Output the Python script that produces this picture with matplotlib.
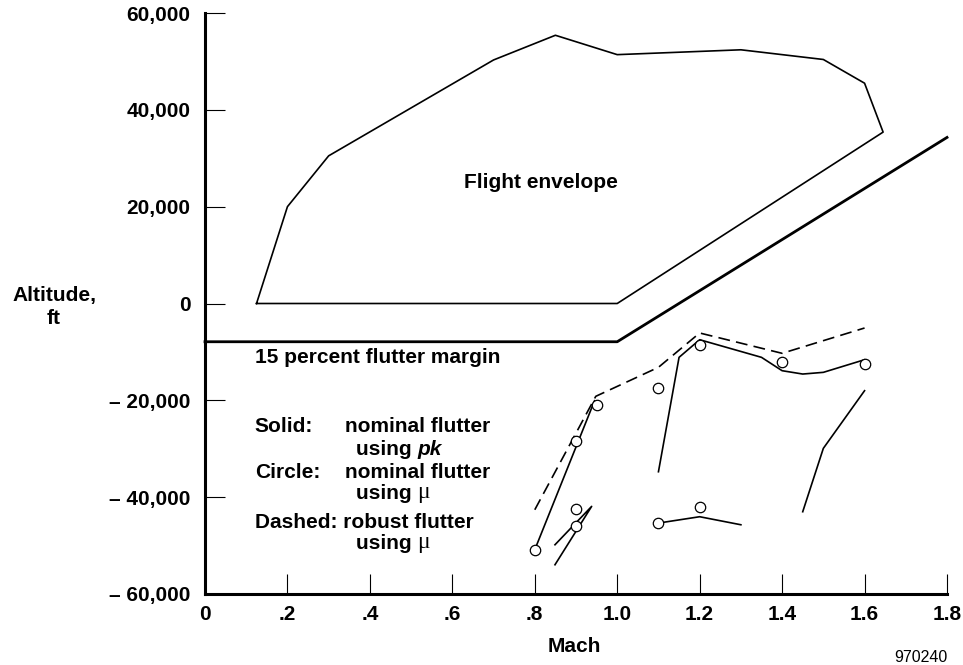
#!/usr/bin/env python3
# -*- coding: utf-8 -*-

import matplotlib
matplotlib.use("Agg")
import matplotlib.pyplot as plt

plt.rcParams['font.family'] = ['Liberation Sans', 'DejaVu Sans']
plt.rcParams['font.weight'] = 'bold'
plt.rcParams['lines.scale_dashes'] = False

# flight envelope boundary (Mach, altitude ft)
env_mach = [0.125, 0.2, 0.3, 0.7, 0.85, 1.0, 1.3, 1.5, 1.6, 1.645, 1.0, 0.125]
env_alt = [0, 20000, 30500, 50300, 55400, 51400, 52400, 50400, 45500, 35400, 0, 0]

# 15 percent flutter margin boundary
margin_mach = [0.0, 1.0, 1.8]
margin_alt = [-7900, -7900, 34300]

# robust flutter using mu (dashed)
robust_mach = [0.80, 0.948, 1.10, 1.20, 1.40, 1.60]
robust_alt = [-42600, -19170, -13180, -6090, -10290, -5060]

# nominal flutter using pk (solid), several branches
pk_branches = [
    ([0.80, 0.945], [-50860, -20080]),
    ([1.10, 1.15, 1.20, 1.35, 1.40, 1.45, 1.50, 1.60],
     [-34750, -11120, -7480, -11120, -13880, -14570, -14220, -11610]),
    ([1.10, 1.20, 1.30], [-45350, -44040, -45700]),
    ([1.45, 1.50, 1.60], [-43010, -29920, -18010]),
    ([0.849, 0.938, 0.849], [-49830, -41900, -53960]),
]

# nominal flutter using mu (circles)
mu_mach = [0.80, 0.90, 0.95, 0.90, 0.90, 1.10, 1.20, 1.20, 1.10, 1.40, 1.60]
mu_alt = [-50860, -28340, -20970, -42460, -46030, -17520, -8570, -41980, -45350, -12150, -12500]

mach_ticks = [0, 0.2, 0.4, 0.6, 0.8, 1.0, 1.2, 1.4, 1.6, 1.8]
mach_labels = ['0', '.2', '.4', '.6', '.8', '1.0', '1.2', '1.4', '1.6', '1.8']
alt_ticks = [-60000, -40000, -20000, 0, 20000, 40000, 60000]
alt_labels = ['\u2013 60,000', '\u2013 40,000', '\u2013 20,000', '0', '20,000', '40,000', '60,000']

fig = plt.figure(figsize=(9.63, 6.65), dpi=100)
ax = fig.add_axes([205/963, 71/665, 742/963, 581/665])

ax.plot(env_mach, env_alt, 'k-', lw=1.2)
ax.plot(margin_mach, margin_alt, 'k-', lw=2.0, clip_on=False)
ax.plot(robust_mach, robust_alt, 'k-', lw=1.2, dashes=(8.5, 4.5))
for m, a in pk_branches:
    ax.plot(m, a, 'k-', lw=1.2)
ax.plot(mu_mach, mu_alt, 'o', color='k', mfc='white', ms=7.5, mew=0.9, ls='none')

ax.set_xlim(0, 1.8)
ax.set_ylim(-60000, 60000)
ax.set_xticks(mach_ticks)
ax.set_xticklabels(mach_labels)
ax.set_yticks(alt_ticks)
ax.set_yticklabels(alt_labels)
ax.tick_params(direction='in', length=14.4, width=0.8, labelsize=15)
ax.tick_params(axis='y', pad=10.5)
ax.tick_params(axis='x', pad=8)
for s in ['top', 'right']:
    ax.spines[s].set_visible(False)
for s in ['left', 'bottom']:
    ax.spines[s].set_linewidth(2.2)

fs = 15
ax.text(0.628, 24900, 'Flight envelope', fontsize=fs, va='center', ha='left')
ax.text(0.121, -11050, '15 percent flutter margin', fontsize=fs, va='center')

ax.text(0.121, -25500, 'Solid:', fontsize=fs, va='center')
ax.text(0.340, -25500, 'nominal flutter', fontsize=fs, va='center')
t = ax.text(0.366, -30060, 'using ', fontsize=fs, va='center')
ax.annotate('pk', xy=(1, 0), xycoords=t, va='bottom', ha='left',
            fontsize=fs, style='italic')

ax.text(0.121, -34810, 'Circle:', fontsize=fs, va='center')
ax.text(0.340, -34810, 'nominal flutter', fontsize=fs, va='center')
t = ax.text(0.366, -39150, 'using ', fontsize=fs, va='center')
ax.annotate('\u03bc', xy=(1, 0), xycoords=t, va='bottom', ha='left',
            fontsize=fs + 2, fontweight='normal', family='Liberation Serif')

ax.text(0.121, -45140, 'Dashed: robust flutter', fontsize=fs, va='center')
t = ax.text(0.366, -49480, 'using ', fontsize=fs, va='center')
ax.annotate('\u03bc', xy=(1, 0), xycoords=t, va='bottom', ha='left',
            fontsize=fs + 2, fontweight='normal', family='Liberation Serif')

fig.text(54/963, 1 - 307/665, 'Altitude,\nft', fontsize=fs, ha='center', va='center',
         linespacing=1.2)
fig.text(574/963, 1 - 647/665, 'Mach', fontsize=fs, ha='center', va='center')
fig.text(921/963, 1 - 657/665, '970240', fontsize=11.5, fontweight='normal',
         ha='center', va='center')

fig.savefig('out.png', dpi=100)
